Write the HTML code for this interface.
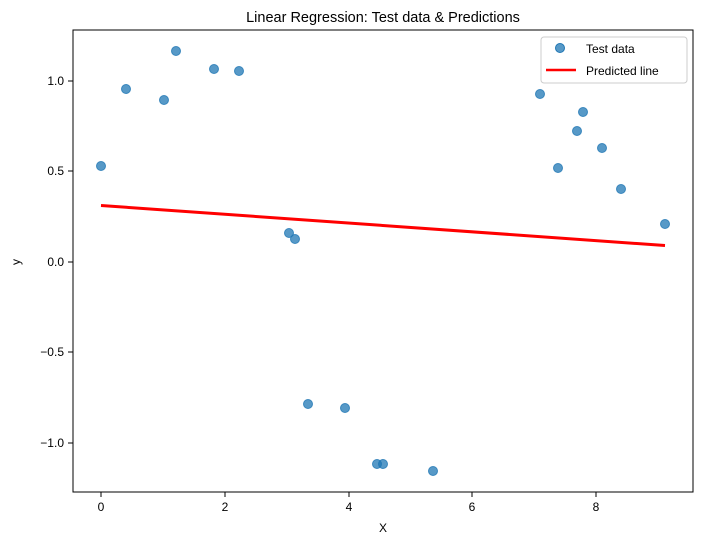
<!DOCTYPE html>
<html><head><style>body{margin:0;background:#fff}svg{display:block}text{font-family:"Liberation Sans","DejaVu Sans",sans-serif;}</style></head><body>
<svg width="703" height="545" xmlns="http://www.w3.org/2000/svg">
<rect width="703" height="545" fill="#fff"/>
<text x="383" y="22" font-size="14.5" text-anchor="middle">Linear Regression: Test data &amp; Predictions</text>
<g fill="#1f77b4" fill-opacity="0.75" stroke="#1f77b4" stroke-opacity="0.8">
<circle cx="101" cy="166" r="4.5"/><circle cx="126" cy="89" r="4.5"/><circle cx="164" cy="100" r="4.5"/><circle cx="176" cy="51" r="4.5"/><circle cx="214" cy="69" r="4.5"/><circle cx="239" cy="71" r="4.5"/><circle cx="289" cy="233" r="4.5"/><circle cx="295" cy="239" r="4.5"/><circle cx="308" cy="404" r="4.5"/><circle cx="345" cy="408" r="4.5"/><circle cx="377" cy="464" r="4.5"/><circle cx="383" cy="464" r="4.5"/><circle cx="433" cy="471" r="4.5"/><circle cx="540" cy="94" r="4.5"/><circle cx="558" cy="168" r="4.5"/><circle cx="577" cy="131" r="4.5"/><circle cx="583" cy="112" r="4.5"/><circle cx="602" cy="148" r="4.5"/><circle cx="621" cy="189" r="4.5"/><circle cx="665" cy="224" r="4.5"/>
</g>
<line x1="101" y1="205.5" x2="665" y2="245.5" stroke="#f00" stroke-width="3"/>
<rect x="73" y="30" width="620" height="462" fill="none" stroke="#000" stroke-width="1"/>
<g stroke="#000">
<line x1="101" y1="492" x2="101" y2="497"/><line x1="225" y1="492" x2="225" y2="497"/><line x1="349" y1="492" x2="349" y2="497"/><line x1="472" y1="492" x2="472" y2="497"/><line x1="596" y1="492" x2="596" y2="497"/>
<line x1="68" y1="81" x2="73" y2="81"/><line x1="68" y1="171" x2="73" y2="171"/><line x1="68" y1="262" x2="73" y2="262"/><line x1="68" y1="352" x2="73" y2="352"/><line x1="68" y1="443" x2="73" y2="443"/>
</g>
<g font-size="12" text-anchor="middle">
<text x="101" y="511">0</text><text x="225" y="511">2</text><text x="349" y="511">4</text><text x="472" y="511">6</text><text x="596" y="511">8</text>
<text x="383" y="532">X</text>
</g>
<g font-size="12" text-anchor="end">
<text x="64" y="85">1.0</text><text x="64" y="175">0.5</text><text x="64" y="266">0.0</text><text x="64" y="356">−0.5</text><text x="64" y="447">−1.0</text>
</g>
<text x="20" y="262" font-size="12" text-anchor="middle" transform="rotate(-90 20 262)">y</text>
<rect x="541" y="37" width="146" height="46" rx="3" fill="#fff" fill-opacity="0.8" stroke="#ccc"/>
<circle cx="560" cy="48" r="4.5" fill="#1f77b4" fill-opacity="0.75" stroke="#1f77b4"/>
<text x="586" y="53" font-size="12">Test data</text>
<line x1="546" y1="70" x2="576" y2="70" stroke="#f00" stroke-width="2.5"/>
<text x="586" y="75" font-size="12">Predicted line</text>
</svg>
</body></html>
